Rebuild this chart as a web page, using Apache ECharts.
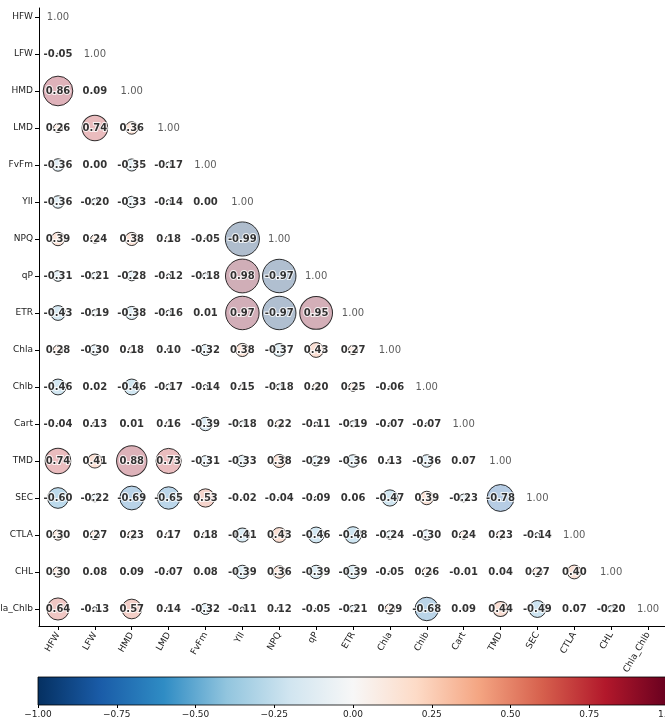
<!DOCTYPE html>
<html>
<head>
<meta charset="utf-8">
<title>Correlation matrix</title>
<script src="https://cdn.jsdelivr.net/npm/echarts@6/dist/echarts.min.js"></script>
<style>
  html, body { margin: 0; padding: 0; background: #fff; overflow: hidden; width: 665px; height: 720px; }
  #wrap { width: 665px; height: 720px; overflow: hidden; position: relative; }
  /* the drawing surface is a little wider than the page so the matrix runs past its right edge */
  #chart { width: 680px; height: 720px; position: absolute; left: 0; top: 0; }
</style>
</head>
<body>
<div id="wrap"><div id="chart"></div></div>
<script>
// Trait names, in matrix order
const variables = ['HFW', 'LFW', 'HMD', 'LMD', 'FvFm', 'YII', 'NPQ', 'qP', 'ETR',
  'Chla', 'Chlb', 'Cart', 'TMD', 'SEC', 'CTLA', 'CHL', 'Chla_Chlb'];

// Lower-triangle Pearson correlations, one row per trait (columns follow `variables`)
const rowHFW = [];
const rowLFW = [-0.05];
const rowHMD = [0.86, 0.09];
const rowLMD = [0.26, 0.74, 0.36];
const rowFvFm = [-0.36, 0.00, -0.35, -0.17];
const rowYII = [-0.36, -0.20, -0.33, -0.14, 0.00];
const rowNPQ = [0.39, 0.24, 0.38, 0.18, -0.05, -0.99];
const rowqP = [-0.31, -0.21, -0.28, -0.12, -0.18, 0.98, -0.97];
const rowETR = [-0.43, -0.19, -0.38, -0.16, 0.01, 0.97, -0.97, 0.95];
const rowChla = [0.28, -0.30, 0.18, 0.10, -0.32, 0.38, -0.37, 0.43, 0.27];
const rowChlb = [-0.46, 0.02, -0.46, -0.17, -0.14, 0.15, -0.18, 0.20, 0.25, -0.06];
const rowCart = [-0.04, 0.13, 0.01, 0.16, -0.39, -0.18, 0.22, -0.11, -0.19, -0.07, -0.07];
const rowTMD = [0.74, 0.41, 0.88, 0.73, -0.31, -0.33, 0.38, -0.29, -0.36, 0.13, -0.36, 0.07];
const rowSEC = [-0.60, -0.22, -0.69, -0.65, 0.53, -0.02, -0.04, -0.09, 0.06, -0.47, 0.39, -0.23, -0.78];
const rowCTLA = [0.30, 0.27, 0.23, 0.17, 0.18, -0.41, 0.43, -0.46, -0.48, -0.24, -0.30, 0.24, 0.23, -0.14];
const rowCHL = [0.30, 0.08, 0.09, -0.07, 0.08, -0.39, 0.36, -0.39, -0.39, -0.05, 0.26, -0.01, 0.04, 0.27, 0.40];
const rowChlaChlb = [0.64, -0.13, 0.57, 0.14, -0.32, -0.11, 0.12, -0.05, -0.21, 0.29, -0.68, 0.09, 0.44, -0.49, 0.07, -0.20];

const matrixRows = [rowHFW, rowLFW, rowHMD, rowLMD, rowFvFm, rowYII, rowNPQ, rowqP, rowETR,
  rowChla, rowChlb, rowCart, rowTMD, rowSEC, rowCTLA, rowCHL, rowChlaChlb];

// Colour bar tick values
const colorbarTicks = [-1, -0.75, -0.5, -0.25, 0, 0.25, 0.5, 0.75, 1];

// Diverging red-blue palette (reversed RdBu), from -1 to 1
const rdbuR = ['#053061', '#1a5ca8', '#2f8cc4', '#92c5de', '#d1e5f0', '#f7f7f7',
  '#fddbc7', '#f4a582', '#d6604d', '#b2182b', '#67001f'];

function hexToRgb(h) {
  return [parseInt(h.slice(1, 3), 16), parseInt(h.slice(3, 5), 16), parseInt(h.slice(5, 7), 16)];
}
function paletteColor(v, alpha) {
  const t = Math.max(0, Math.min(1, (v + 1) / 2)) * (rdbuR.length - 1);
  const i = Math.min(rdbuR.length - 2, Math.floor(t));
  const f = t - i;
  const a = hexToRgb(rdbuR[i]), b = hexToRgb(rdbuR[i + 1]);
  const c = a.map((x, k) => Math.round(x + (b[k] - x) * f));
  return 'rgba(' + c[0] + ',' + c[1] + ',' + c[2] + ',' + alpha + ')';
}

// Build scatter points: [column, row, r]
const offDiag = [];
matrixRows.forEach((row, i) => {
  row.forEach((r, j) => offDiag.push([j, i, r]));
});
const diagPoints = variables.map((_, i) => [i, i, 1]);

const idx = variables.map((_, i) => i);
const fontFam = '"DejaVu Sans", sans-serif';

const chart = echarts.init(document.getElementById('chart'), null, { renderer: 'canvas' });

chart.setOption({
  animation: false,
  backgroundColor: '#ffffff',
  grid: [
    { left: 39, right: 13, top: 8, bottom: 94, outerBoundsMode: 'none', containLabel: false },
    { left: 38, right: 12, top: 677, height: 28, outerBoundsMode: 'none', containLabel: false }
  ],
  xAxis: [
    {
      gridIndex: 0,
      type: 'value',
      min: -0.515,
      max: 16.515,
      splitLine: { show: false },
      axisLine: { show: true, onZero: false, lineStyle: { color: '#000', width: 1 } },
      axisTick: { show: true, customValues: idx, length: 4, inside: false, lineStyle: { color: '#000' } },
      axisLabel: {
        show: true,
        customValues: idx,
        formatter: v => variables[Math.round(v)],
        rotate: 60,
        margin: 7,
        fontSize: 9,
        color: '#222',
        fontFamily: fontFam,
        hideOverlap: false
      }
    },
    {
      gridIndex: 1,
      type: 'value',
      min: -1,
      max: 1,
      interval: 0.25,
      splitLine: { show: false },
      axisLine: { show: false, onZero: false },
      axisTick: { show: true, customValues: colorbarTicks, length: 3, lineStyle: { color: '#000' } },
      axisLabel: {
        customValues: colorbarTicks,
        formatter: v => v.toFixed(2).replace('-', '\u2212'),
        fontSize: 9,
        margin: 5,
        color: '#222',
        fontFamily: fontFam
      }
    }
  ],
  yAxis: [
    {
      gridIndex: 0,
      type: 'value',
      inverse: true,
      min: -0.243,
      max: 16.46,
      splitLine: { show: false },
      axisLine: { show: true, onZero: false, lineStyle: { color: '#000', width: 1 } },
      axisTick: { show: true, customValues: idx, length: 4, lineStyle: { color: '#000' } },
      axisLabel: {
        customValues: idx,
        formatter: v => variables[Math.round(v)],
        margin: 6,
        fontSize: 9,
        color: '#222',
        fontFamily: fontFam
      }
    },
    {
      gridIndex: 1,
      type: 'value',
      min: 0,
      max: 1,
      show: false
    }
  ],
  series: [
    {
      name: 'correlation',
      type: 'scatter',
      xAxisIndex: 0,
      yAxisIndex: 0,
      data: offDiag,
      symbol: 'circle',
      symbolSize: d => 34.5 * Math.abs(d[2]),
      itemStyle: {
        color: p => paletteColor(p.data[2], 0.4),
        borderColor: '#000',
        borderWidth: 1
      },
      label: {
        show: true,
        position: 'inside',
        formatter: p => p.data[2].toFixed(2),
        fontSize: 10,
        fontWeight: 'bold',
        color: '#000',
        fontFamily: fontFam,
        textBorderColor: '#fff',
        textBorderWidth: 2
      },
      emphasis: { disabled: true },
      z: 3
    },
    {
      name: 'diagonal',
      type: 'scatter',
      xAxisIndex: 0,
      yAxisIndex: 0,
      data: diagPoints,
      symbolSize: 0,
      label: {
        show: true,
        position: 'inside',
        formatter: p => p.data[2].toFixed(2),
        fontSize: 10,
        color: '#333',
        fontFamily: fontFam
      },
      emphasis: { disabled: true },
      z: 3
    },
    {
      name: 'colorbar',
      type: 'custom',
      xAxisIndex: 1,
      yAxisIndex: 1,
      data: [[-1, 1]],
      renderItem: (params, api) => {
        const p0 = api.coord([api.value(0), 0]);
        const p1 = api.coord([api.value(1), 1]);
        const stops = rdbuR.map((c, k) => ({ offset: k / (rdbuR.length - 1), color: c }));
        return {
          type: 'rect',
          shape: { x: p0[0], y: p1[1], width: p1[0] - p0[0], height: p0[1] - p1[1] },
          style: {
            fill: new echarts.graphic.LinearGradient(0, 0, 1, 0, stops),
            stroke: '#000',
            lineWidth: 0.8
          }
        };
      },
      silent: true
    }
  ]
});
</script>
</body>
</html>
